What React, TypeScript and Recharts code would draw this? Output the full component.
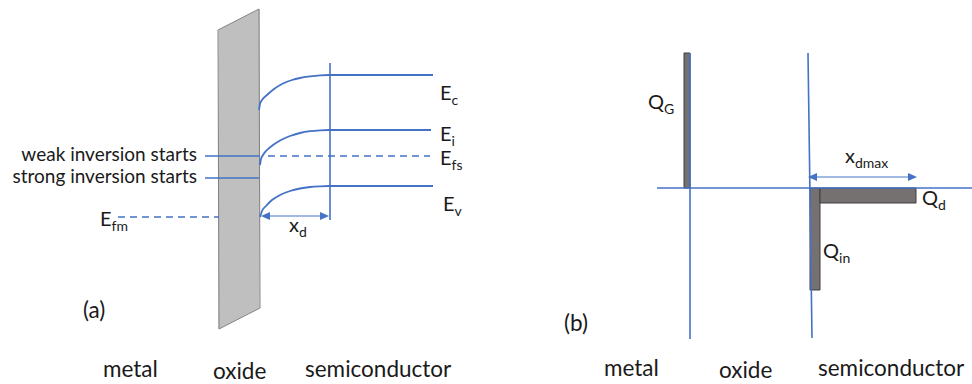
import { ComposedChart, XAxis, YAxis, Line, Area, Scatter, ReferenceArea } from "recharts";

const W = 972;
const H = 384;
const BLUE = "#4472C4";
const FONT = "Lato, 'Open Sans', sans-serif";

// (a) oxide slab, drawn as a range area plus an outline
const oxideBody = [
  { x: 218.5, y: [30, 329] },
  { x: 259.5, y: [9, 308] },
];
const oxideOutline = [
  { x: 218, y: 30 }, { x: 259, y: 9 }, { x: 260, y: 308 }, { x: 219, y: 329 }, { x: 218, y: 30 },
];

// (a) band edges bending at the oxide interface
const ecBand = [
  { x: 259, y: 110 }, { x: 260, y: 104 }, { x: 262, y: 100 }, { x: 267, y: 95 }, { x: 274, y: 89 },
  { x: 283, y: 83.5 }, { x: 292, y: 80 }, { x: 300, y: 78 }, { x: 310, y: 76.4 }, { x: 320, y: 75.3 },
  { x: 329, y: 75 }, { x: 433, y: 75 },
];
const eiBand = [
  { x: 260, y: 165 }, { x: 261, y: 159 }, { x: 263, y: 155 }, { x: 267, y: 150 }, { x: 273, y: 145 },
  { x: 281, y: 140 }, { x: 290, y: 136 }, { x: 300, y: 133 }, { x: 310, y: 131.2 }, { x: 320, y: 130.3 },
  { x: 329, y: 130 }, { x: 431, y: 130 },
];
const evBand = [
  { x: 260, y: 217 }, { x: 262, y: 211 }, { x: 266, y: 206 }, { x: 272, y: 200 }, { x: 280, y: 195 },
  { x: 290, y: 191 }, { x: 300, y: 188.5 }, { x: 310, y: 187 }, { x: 320, y: 186.3 }, { x: 329, y: 186 },
  { x: 433, y: 186 },
];

// straight segments: [x1, y1, x2, y2, dashed, width]
const segments: [number, number, number, number, boolean, number][] = [
  [268, 156, 430, 156, true, 1.6], // E_fs
  [205, 156, 260, 156, false, 1.6], // weak inversion
  [205, 178, 259, 178, false, 1.6], // strong inversion
  [118, 217, 219, 217, true, 1.6], // E_fm
  [330, 63, 330, 220, false, 1.6], // depletion edge
  [264, 216, 326, 216, false, 1], // x_d
  [657, 188, 972, 188, false, 1.6], // (b) axis
  [690, 53, 690, 339, false, 1.6],
  [808, 53, 812, 338, false, 1.6],
  [811, 177, 913, 177, false, 1], // x_dmax
];

// arrow heads: tip position and direction
const arrowHeads = [
  { x: 261, y: 216, dir: -1 },
  { x: 329, y: 216, dir: 1 },
  { x: 808, y: 177, dir: -1 },
  { x: 917, y: 177, dir: 1 },
];

// (b) charge blocks: [x1, x2, y1, y2]
const chargeBlocks: [number, number, number, number][] = [
  [684, 690, 53, 188], // Q_G
  [810, 820, 188, 290], // Q_in
  [820, 916, 188, 203], // Q_d
];

const notes = [
  { x: 197, y: 161, text: "weak inversion starts", anchor: "end" },
  { x: 197, y: 183, text: "strong inversion starts", anchor: "end" },
];

const labels = [
  { x: 100, y: 226, text: "E", sub: "fm" },
  { x: 440, y: 100, text: "E", sub: "c" },
  { x: 440, y: 141, text: "E", sub: "i" },
  { x: 440, y: 165, text: "E", sub: "fs" },
  { x: 443, y: 211, text: "E", sub: "v" },
  { x: 289, y: 232, text: "x", sub: "d" },
  { x: 648, y: 109, text: "Q", sub: "G" },
  { x: 845, y: 163, text: "x", sub: "dmax" },
  { x: 922, y: 205, text: "Q", sub: "d" },
  { x: 823, y: 258, text: "Q", sub: "in" },
];

const captions = [
  { x: 83, y: 318, text: "(a)" },
  { x: 103, y: 377, text: "metal" },
  { x: 213, y: 379, text: "oxide" },
  { x: 305, y: 377, text: "semiconductor" },
  { x: 564, y: 331, text: "(b)" },
  { x: 604, y: 376, text: "metal" },
  { x: 719, y: 378, text: "oxide" },
  { x: 818, y: 376, text: "semiconductor" },
];

function makeText(size: number, subSize: number) {
  return (props: any) => {
    const { cx, cy, payload } = props;
    return (
      <text x={cx} y={cy} fontSize={size} fontFamily={FONT} fill="#1a1a1a" textAnchor={payload.anchor || "start"}>
        {payload.text}
        {payload.sub ? (
          <tspan dy={5} fontSize={subSize}>
            {payload.sub}
          </tspan>
        ) : null}
      </text>
    );
  };
}

const NoteText = makeText(19, 13);
const LabelText = makeText(20, 14);
const CaptionText = makeText(22.5, 15);

function ArrowHead(props: any) {
  const { cx, cy, payload } = props;
  const d = payload.dir;
  const bx = cx - d * 9;
  return <polygon points={`${cx},${cy} ${bx},${cy - 4} ${bx},${cy + 4}`} fill={BLUE} />;
}

export default function App() {
  return (
    <div style={{ position: "absolute", left: 0, top: 0, width: W, height: H, background: "#fff" }}>
      <ComposedChart width={W} height={H} margin={{ top: 0, right: 0, bottom: 0, left: 0 }}>
        <XAxis dataKey="x" type="number" domain={[0, W]} hide allowDataOverflow />
        <YAxis dataKey="y" type="number" domain={[0, H]} reversed hide allowDataOverflow />

        <Area
          data={oxideBody}
          dataKey="y"
          type="linear"
          fill="#bfbfbf"
          fillOpacity={1}
          stroke="none"
          isAnimationActive={false}
        />
        <Line data={oxideOutline} dataKey="y" type="linear" stroke="#7f7f7f" strokeWidth={1} dot={false} activeDot={false} isAnimationActive={false} />

        {chargeBlocks.map(([x1, x2, y1, y2], i) => (
          <ReferenceArea key={`q${i}`} x1={x1} x2={x2} y1={y1} y2={y2} fill="#767171" fillOpacity={1} stroke="#3f3f3f" strokeWidth={1} ifOverflow="visible" />
        ))}

        {[ecBand, eiBand, evBand].map((band, i) => (
          <Line key={`b${i}`} data={band} dataKey="y" type="monotone" stroke={BLUE} strokeWidth={1.8} dot={false} activeDot={false} isAnimationActive={false} />
        ))}

        {segments.map(([x1, y1, x2, y2, dashed, w], i) => (
          <Line
            key={`s${i}`}
            data={[{ x: x1, y: y1 }, { x: x2, y: y2 }]}
            dataKey="y"
            type="linear"
            stroke={BLUE}
            strokeWidth={w}
            strokeDasharray={dashed ? "7 5" : undefined}
            dot={false}
            activeDot={false}
            isAnimationActive={false}
          />
        ))}

        <Scatter data={arrowHeads} dataKey="y" shape={ArrowHead} isAnimationActive={false} />
        <Scatter data={notes} dataKey="y" shape={NoteText} isAnimationActive={false} />
        <Scatter data={labels} dataKey="y" shape={LabelText} isAnimationActive={false} />
        <Scatter data={captions} dataKey="y" shape={CaptionText} isAnimationActive={false} />
      </ComposedChart>
    </div>
  );
}
